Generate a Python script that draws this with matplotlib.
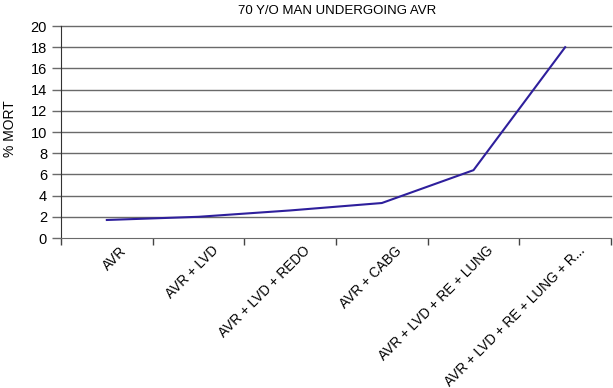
import matplotlib
matplotlib.use("Agg")
import matplotlib.pyplot as plt
import matplotlib.transforms as mtransforms
import numpy as np

plt.rcParams['font.family'] = ['Liberation Sans', 'DejaVu Sans']

# data
categories = ['AVR', 'AVR + LVD', 'AVR + LVD + REDO', 'AVR + CABG',
              'AVR + LVD + RE + LUNG', 'AVR + LVD + RE + LUNG + R...']
mortality = [1.7, 2.0, 2.6, 3.3, 6.4, 18.0]
y_ticks = list(range(0, 21, 2))

fig = plt.figure(figsize=(6.13, 3.88), dpi=100, facecolor='white')
ax = fig.add_axes([61 / 613, 1 - 238 / 388, 550 / 613, 212 / 388])

x = np.arange(len(categories))
ax.plot(x, mortality, color='#2e1f9c', linewidth=1.5, zorder=3)

ax.set_xlim(-0.5, len(categories) - 0.5)
ax.set_ylim(0, 20)
ax.set_yticks(y_ticks)
ax.set_yticklabels([str(v) for v in y_ticks], fontsize=10.5)
for v in y_ticks[1:]:
    ax.axhline(v, color='#6a6a6a', linewidth=1.0, zorder=1, clip_on=False)

# category boundaries get the tick marks, labels sit in between
ax.set_xticks(np.arange(len(categories) + 1) - 0.5)
ax.set_xticklabels([])
ax.set_xticks(x, minor=True)
ax.set_xticklabels(categories, minor=True, fontsize=9.8, rotation=45,
                   ha='right', va='top', rotation_mode='anchor')
ax.tick_params(axis='x', which='minor', length=0, pad=4)
ax.tick_params(axis='x', which='major', length=5, width=1, color='#444444')
ax.tick_params(axis='y', length=6.5, width=1, color='#6a6a6a', pad=3.5)
offset = mtransforms.ScaledTranslation(13 / 100, 0, fig.dpi_scale_trans)
for lbl in ax.get_xticklabels(minor=True):
    lbl.set_transform(lbl.get_transform() + offset)

for side in ['top', 'right']:
    ax.spines[side].set_visible(False)
ax.spines['left'].set_color('#333333')
ax.spines['bottom'].set_color('#6a6a6a')

ax.set_ylabel('% MORT', fontsize=10)
ax.yaxis.set_label_coords(-0.08, 0.514)
fig.text(337 / 613, 1 - 11 / 388, '70 Y/O MAN UNDERGOING AVR',
         ha='center', va='center', fontsize=9.5)

fig.savefig('out.png', dpi=100)
